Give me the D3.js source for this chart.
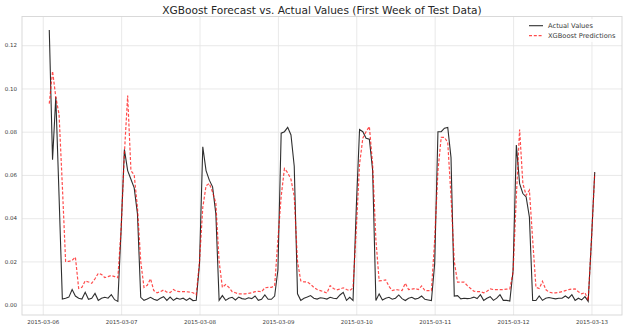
<!DOCTYPE html>
<html><head><meta charset="utf-8">
<script src="https://cdn.jsdelivr.net/npm/d3@7"></script>
<style>body{margin:0;background:#fff}svg{display:block;font-family:"DejaVu Sans",sans-serif}</style>
</head><body><svg id="c" width="627" height="331"></svg>
<script>
const title = "XGBoost Forecast vs. Actual Values (First Week of Test Data)";
const seriesNames = ["Actual Values", "XGBoost Predictions"];
const startHour = "2015-03-06 02:00"; // hourly observations
const xTickLabels = ["2015-03-06","2015-03-07","2015-03-08","2015-03-09","2015-03-10","2015-03-11","2015-03-12","2015-03-13"];
const yTicks = [0.00, 0.02, 0.04, 0.06, 0.08, 0.10, 0.12];

const actual = [
.127,.067,.096,.05,.0026,.003,.0035,.007,.004,.003,.0026,.0057,
.0025,.003,.0052,.002,.003,.0034,.003,.0046,.0023,.0015,.035,.0718,
.062,.058,.054,.042,.0034,.002,.0026,.0034,.0025,.002,.003,.0037,
.002,.0035,.002,.003,.0025,.003,.002,.003,.0019,.002,.019,.073,
.062,.0576,.0545,.042,.002,.0042,.002,.003,.0034,.0022,.0035,.0028,
.0025,.0032,.0028,.004,.002,.0025,.0045,.0025,.0025,.004,.016,.0793,
.080,.082,.0785,.064,.005,.002,.003,.0035,.0042,.003,.0026,.0032,
.003,.0026,.0034,.003,.0028,.0045,.0057,.002,.0034,.0019,.045,.081,
.080,.077,.0765,.0622,.0019,.005,.0022,.003,.0034,.0025,.003,.0045,
.0028,.0019,.003,.0034,.0026,.003,.004,.0025,.0022,.0019,.019,.080,
.080,.0816,.082,.068,.004,.0042,.0027,.003,.0028,.003,.0035,.0028,
.0046,.002,.003,.0037,.002,.003,.0046,.002,.002,.0017,.0158,.0738,
.056,.0514,.0498,.0405,.0019,.0019,.004,.002,.003,.0033,.003,.0027,
.003,.003,.004,.003,.0046,.002,.003,.0022,.0037,.0015,.03,.0614
];
const predicted = [
.093,.108,.096,.088,.055,.020,.020,.0205,.022,.0075,.008,.011,
.0105,.0099,.012,.0145,.014,.0125,.013,.0135,.013,.0125,.035,.07,
.0967,.062,.060,.045,.02,.008,.009,.012,.0065,.0055,.006,.0068,
.0058,.0056,.007,.0062,.006,.006,.006,.0058,.0055,.0046,.02,.045,
.055,.056,.052,.047,.02,.008,.0093,.008,.006,.0055,.005,.005,
.005,.0052,.0055,.006,.0062,.006,.0078,.008,.008,.0087,.03,.05,
.063,.061,.058,.05,.02,.011,.0105,.0105,.0095,.008,.007,.0065,
.006,.0054,.0088,.0075,.0068,.0072,.0078,.007,.0065,.0078,.035,.065,
.077,.080,.0824,.065,.03,.011,.0112,.0115,.0085,.0065,.007,.0068,
.0065,.0099,.007,.0072,.0075,.007,.0087,.0065,.0065,.0065,.03,.062,
.0774,.0774,.075,.05,.02,.0104,.0104,.0104,.0088,.0075,.0062,.006,
.006,.0055,.0062,.0073,.007,.007,.007,.007,.0072,.0073,.015,.05,
.081,.056,.0506,.053,.03,.008,.0075,.0108,.007,.0058,.0055,.0055,
.0057,.006,.0065,.007,.0072,.0073,.006,.005,.0056,.002,.03,.0607
];

const svg = d3.select("#c");
const L = 22, R = 622, T = 16.5, B = 315;
const parseH = d3.timeParse("%Y-%m-%d %H:%M");
const parseD = d3.timeParse("%Y-%m-%d");
const t0 = parseH(startHour);
const times = actual.map((_, i) => d3.timeHour.offset(t0, i));
const tExt = d3.extent(times);
const tPad = (tExt[1] - tExt[0]) * 0.05;
const x = d3.scaleTime().domain([new Date(+tExt[0] - tPad), new Date(+tExt[1] + tPad)]).range([L, R]);
const all = actual.concat(predicted);
const yExt = d3.extent(all);
const yPad = (yExt[1] - yExt[0]) * 0.05;
const y = d3.scaleLinear().domain([yExt[0] - yPad, yExt[1] + yPad]).range([B, T]);

// grid + axes
const xAxis = d3.axisBottom(x).tickValues(xTickLabels.map(parseD))
  .tickFormat(d3.timeFormat("%Y-%m-%d")).tickSize(-(B - T)).tickPadding(5);
const gx = svg.append("g").attr("transform", `translate(0,${B})`).call(xAxis);
const yAxis = d3.axisLeft(y).tickValues(yTicks).tickFormat(d3.format(".2f")).tickSize(-(R - L)).tickPadding(5);
const gy = svg.append("g").attr("transform", `translate(${L},0)`).call(yAxis);
[gx, gy].forEach(g => {
  g.select(".domain").remove();
  g.selectAll(".tick line").attr("stroke", "#e6e6e6").attr("stroke-width", 0.9);
  g.selectAll(".tick text").attr("fill", "#3a3a3a").style("font-size", "5.5px").style("font-family", "DejaVu Sans");
});
gx.selectAll(".tick text").attr("dy", "0.71em").attr("y", 5);

// frame
svg.append("rect").attr("x", L).attr("y", T).attr("width", R - L).attr("height", B - T)
  .attr("fill", "none").attr("stroke", "#d6d6d6").attr("stroke-width", 0.9);

// lines
const line = d3.line().x((d, i) => x(times[i])).y(d => y(d));
svg.append("path").datum(actual).attr("d", line).attr("fill", "none")
  .attr("stroke", "#000").attr("stroke-opacity", 0.82).attr("stroke-width", 1.1);
svg.append("path").datum(predicted).attr("d", line).attr("fill", "none")
  .attr("stroke", "red").attr("stroke-opacity", 0.7).attr("stroke-width", 1.2)
  .attr("stroke-dasharray", "3,1.8");

// title
svg.append("text").attr("x", (L + R) / 2).attr("y", 13.5).attr("text-anchor", "middle")
  .attr("fill", "#262626").style("font-size", "10.6px").text(title);

// legend
const lg = svg.append("g");
lg.append("rect").attr("x", 524).attr("y", 19).attr("width", 96).attr("height", 23)
  .attr("fill", "#fff").attr("fill-opacity", 0.8);
const styles = [{c: "#000", o: 0.82, w: 1.1, dash: null}, {c: "red", o: 0.7, w: 1.2, dash: "3,1.8"}];
seriesNames.forEach((n, i) => {
  const yy = 25.7 + i * 10;
  const l = lg.append("line").attr("x1", 529).attr("x2", 543).attr("y1", yy).attr("y2", yy)
    .attr("stroke", styles[i].c).attr("stroke-opacity", styles[i].o).attr("stroke-width", styles[i].w);
  if (styles[i].dash) l.attr("stroke-dasharray", styles[i].dash);
  lg.append("text").attr("x", 548).attr("y", yy).attr("dy", "0.35em")
    .attr("fill", "#3a3a3a").style("font-size", "6.7px").text(n);
});
</script></body></html>
